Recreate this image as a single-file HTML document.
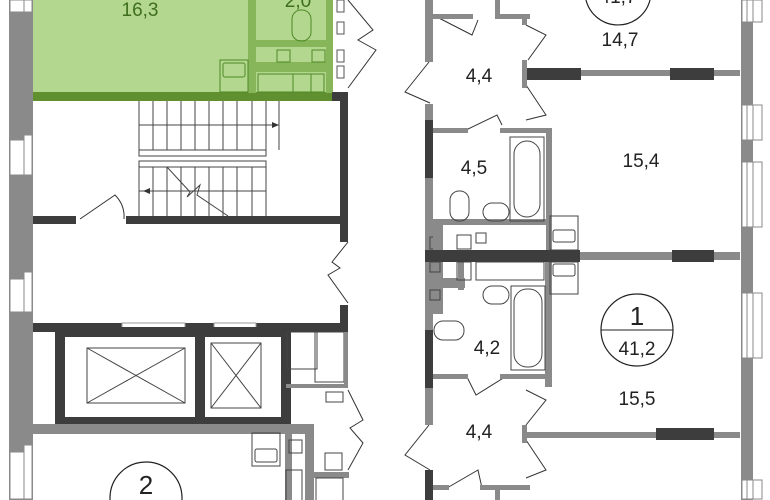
<!DOCTYPE html>
<html><head><meta charset="utf-8"><style>
html,body{margin:0;padding:0;background:#fff;width:770px;height:500px;overflow:hidden}
svg{display:block}
text{font-family:"Liberation Sans",sans-serif}
</style></head><body>
<svg width="770" height="500" viewBox="0 0 770 500" xmlns="http://www.w3.org/2000/svg" overflow="hidden">
<rect width="770" height="500" fill="#fff"/>
<rect x="9" y="0" width="24" height="500" fill="#8a8a8a"/>
<g fill="#fff" stroke="#8a8a8a" stroke-width="1">
<rect x="10" y="0" width="14" height="12"/><rect x="24" y="0" width="8" height="12"/>
<rect x="10" y="140" width="14" height="35"/><rect x="24" y="135" width="8" height="40"/>
<rect x="10" y="279" width="14" height="33"/><rect x="24" y="272" width="8" height="40"/>
<rect x="10" y="452" width="14" height="47"/><rect x="24" y="445" width="8" height="54"/>
</g>
<rect x="33" y="0" width="300" height="93" fill="#b3d78f"/>
<rect x="33" y="92" width="300" height="9" fill="#5f8f2f"/>
<rect x="248" y="0" width="8" height="93" fill="#86b55a"/>
<rect x="326" y="0" width="7" height="93" fill="#86b55a"/>
<rect x="256" y="40" width="70" height="7" fill="#86b55a"/>
<rect x="256" y="62" width="70" height="10" fill="#86b55a"/>
<g fill="none" stroke="#4e8a24" stroke-width="1">
<rect x="220" y="60" width="28" height="32"/><rect x="223" y="63" width="22" height="14" rx="2"/>
<rect x="292" y="10" width="19" height="31" rx="9"/>
<rect x="277" y="50" width="13" height="12"/><rect x="312" y="50" width="13" height="12"/>
<rect x="293" y="74" width="18" height="18"/><rect x="258" y="74" width="66" height="18"/>
</g>
<text x="140" y="16" font-size="19" fill="#3f6e1e" text-anchor="middle">16,3</text>
<text x="298" y="7" font-size="19" fill="#3f6e1e" text-anchor="middle">2,0</text>
<g fill="#fff" stroke="#555" stroke-width="1"><rect x="337" y="0" width="7" height="12"/><rect x="337" y="22" width="7" height="12"/><rect x="337" y="50" width="7" height="12"/><rect x="337" y="66" width="7" height="12"/></g>
<rect x="332" y="92" width="16" height="9" fill="#3d3d3d"/>
<rect x="340" y="92" width="8" height="150" fill="#3d3d3d"/>
<rect x="33" y="216" width="43" height="8" fill="#3d3d3d"/>
<rect x="126" y="216" width="214" height="8" fill="#3d3d3d"/>
<path d="M80 219 L115 195 Q125 205 124 219" fill="none" stroke="#333" stroke-width="1"/>
<g fill="none" stroke="#444" stroke-width="1">
<line x1="139" y1="101" x2="139" y2="152"/><line x1="139" y1="125" x2="279" y2="125"/>
<rect x="139" y="150" width="127" height="6"/><rect x="139" y="161" width="127" height="6"/>
<line x1="139" y1="167" x2="139" y2="216"/><line x1="139" y1="191" x2="266" y2="191"/>
<line x1="279" y1="101" x2="279" y2="150"/>
<line x1="153" y1="101" x2="153" y2="150"/><line x1="167" y1="101" x2="167" y2="150"/><line x1="181" y1="101" x2="181" y2="150"/><line x1="195" y1="101" x2="195" y2="150"/><line x1="209" y1="101" x2="209" y2="150"/><line x1="223" y1="101" x2="223" y2="150"/><line x1="237" y1="101" x2="237" y2="150"/><line x1="252" y1="101" x2="252" y2="150"/><line x1="266" y1="101" x2="266" y2="150"/>
<line x1="153" y1="167" x2="153" y2="216"/><line x1="167" y1="167" x2="167" y2="216"/><line x1="181" y1="167" x2="181" y2="216"/><line x1="195" y1="167" x2="195" y2="216"/><line x1="209" y1="167" x2="209" y2="216"/><line x1="223" y1="167" x2="223" y2="216"/><line x1="237" y1="167" x2="237" y2="216"/><line x1="252" y1="167" x2="252" y2="216"/><line x1="266" y1="167" x2="266" y2="216"/>
<path d="M167 167 L190 192 L187 197 L200 185 L197 195 L228 216"/>
</g>
<path d="M279 125 l-7 -3 v6z M143 191 l7 -3 v6z" fill="#333"/>
<g fill="none" stroke="#333" stroke-width="1">
<path d="M348 242 L332 262 L340 268 L328 275 L348 303"/>
<path d="M348 390 L363 420 L350 428 L363 443 L348 470"/>
<path d="M348 0 L373 30 L358 40 L376 50 L348 88"/>
</g>
<rect x="33" y="323" width="315" height="9" fill="#3d3d3d"/>
<rect x="122" y="323" width="63" height="9" fill="#fff" stroke="#999"/>
<rect x="214" y="323" width="42" height="9" fill="#fff" stroke="#999"/>
<rect x="340" y="305" width="8" height="27" fill="#3d3d3d"/>
<rect x="60" y="332" width="226" height="90" fill="none" stroke="#3d3d3d" stroke-width="10"/>
<rect x="195" y="332" width="10" height="90" fill="#3d3d3d"/>
<g fill="none" stroke="#444" stroke-width="1">
<rect x="87" y="348" width="98" height="55"/><path d="M87 348 L185 403 M185 348 L87 403"/>
<rect x="211" y="343" width="50" height="65"/><path d="M211 343 L261 408 M261 343 L211 408"/>
<rect x="287" y="332" width="30" height="37"/><rect x="315" y="332" width="29" height="50"/>
<rect x="326" y="392" width="17" height="10"/>
</g>
<rect x="286" y="384" width="60" height="4" fill="#8a8a8a"/>
<rect x="344" y="332" width="4" height="56" fill="#8a8a8a"/>
<rect x="33" y="424" width="280" height="10" fill="#8a8a8a"/>
<rect x="305" y="424" width="9" height="76" fill="#8a8a8a"/>
<rect x="285" y="430" width="7" height="70" fill="#8a8a8a"/>
<rect x="314" y="472" width="35" height="6" fill="#8a8a8a"/>
<g fill="none" stroke="#444" stroke-width="1">
<rect x="252" y="433" width="28" height="33"/><rect x="255" y="449" width="22" height="13" rx="2"/>
<rect x="289" y="440" width="13" height="13"/><path d="M286 500 V470 H302 V500"/>
<rect x="325" y="453" width="17" height="17"/><path d="M316 500 V478 H343 V500"/>
</g>
<path d="M110 500 V498 A36 36 0 0 1 182 498 V500" fill="#fff" stroke="#222" stroke-width="1.2"/>
<text x="146" y="494" font-size="26" fill="#222" text-anchor="middle">2</text>
<rect x="425" y="0" width="8" height="500" fill="#8a8a8a"/>
<rect x="425" y="120" width="8" height="58" fill="#3d3d3d"/>
<rect x="425" y="330" width="8" height="58" fill="#3d3d3d"/>
<rect x="425" y="470" width="8" height="30" fill="#3d3d3d"/>
<rect x="424" y="62" width="10" height="42" fill="#fff"/>
<rect x="424" y="425" width="10" height="45" fill="#fff"/>
<g fill="none" stroke="#333" stroke-width="1">
<path d="M429 62 L405 92 L430 103"/><path d="M429 425 L405 455 L430 470"/>
<path d="M433 15 L472 35 L478 20"/>
<path d="M526 25 L546 35 L528 60"/><path d="M526 85 L546 115 L526 120"/>
<path d="M466 130 L497 115 L502 125"/>
<path d="M466 375 L476 395 L505 377"/>
<path d="M526 390 L546 400 L526 425"/><path d="M526 440 L546 470 L526 478"/>
<path d="M447 488 L478 470 L482 488"/>
</g>
<rect x="433" y="14" width="40" height="5" fill="#8a8a8a"/><rect x="495" y="14" width="35" height="5" fill="#8a8a8a"/>
<rect x="495" y="0" width="5" height="15" fill="#8a8a8a"/>
<rect x="522" y="15" width="5" height="10" fill="#8a8a8a"/>
<rect x="525" y="70" width="215" height="6" fill="#8a8a8a"/>
<rect x="525" y="68" width="56" height="12" fill="#3d3d3d"/><rect x="670" y="68" width="44" height="12" fill="#3d3d3d"/>
<rect x="522" y="60" width="5" height="28" fill="#8a8a8a"/>
<rect x="433" y="128" width="35" height="5" fill="#8a8a8a"/><rect x="500" y="128" width="52" height="5" fill="#8a8a8a"/>
<rect x="546" y="128" width="6" height="122" fill="#8a8a8a"/>
<rect x="425" y="219" width="127" height="6" fill="#8a8a8a"/>
<g fill="none" stroke="#444" stroke-width="1">
<rect x="510" y="137" width="34" height="84"/><rect x="514" y="141" width="26" height="76" rx="13"/>
<rect x="450" y="191" width="19" height="30" rx="9"/><rect x="483" y="203" width="26" height="18" rx="9"/>
<rect x="550" y="216" width="28" height="34"/><rect x="553" y="230" width="22" height="12" rx="2"/>
<rect x="430" y="237" width="12" height="12"/><rect x="457" y="235" width="14" height="14"/><rect x="476" y="233" width="10" height="10"/>
</g>
<rect x="433" y="225" width="10" height="25" fill="#8a8a8a"/>
<rect x="425" y="250" width="155" height="12" fill="#3d3d3d"/>
<rect x="580" y="252" width="160" height="8" fill="#8a8a8a"/><rect x="672" y="250" width="42" height="12" fill="#3d3d3d"/>
<rect x="433" y="262" width="10" height="52" fill="#8a8a8a"/>
<rect x="443" y="278" width="22" height="10" fill="#8a8a8a"/>
<rect x="458" y="262" width="6" height="28" fill="#8a8a8a"/>
<rect x="545" y="262" width="7" height="125" fill="#8a8a8a"/>
<rect x="433" y="374" width="35" height="5" fill="#8a8a8a"/><rect x="500" y="374" width="52" height="5" fill="#8a8a8a"/>
<g fill="none" stroke="#444" stroke-width="1">
<rect x="430" y="262" width="10" height="10"/><rect x="430" y="290" width="10" height="10"/>
<rect x="457" y="262" width="14" height="18"/><rect x="476" y="262" width="68" height="18"/>
<rect x="550" y="262" width="28" height="32"/><rect x="553" y="264" width="22" height="12" rx="2"/>
<rect x="511" y="286" width="34" height="84"/><rect x="514" y="289" width="28" height="78" rx="13"/>
<rect x="483" y="286" width="26" height="18" rx="9"/><rect x="434" y="321" width="30" height="19" rx="9"/>
</g>
<rect x="525" y="432" width="215" height="6" fill="#8a8a8a"/><rect x="656" y="428" width="58" height="12" fill="#3d3d3d"/>
<rect x="522" y="425" width="5" height="18" fill="#8a8a8a"/>
<rect x="433" y="485" width="16" height="5" fill="#8a8a8a"/><rect x="480" y="485" width="50" height="5" fill="#8a8a8a"/>
<rect x="495" y="488" width="5" height="12" fill="#8a8a8a"/>
<rect x="741" y="0" width="12" height="500" fill="#8a8a8a"/>
<g fill="#fff" stroke="#8a8a8a" stroke-width="1">
<rect x="742" y="0" width="5" height="22"/><rect x="747" y="0" width="6" height="22"/><rect x="753" y="0" width="9" height="22"/>
<rect x="742" y="105" width="5" height="35"/><rect x="747" y="105" width="6" height="35"/><rect x="753" y="105" width="9" height="35"/>
<rect x="742" y="162" width="5" height="65"/><rect x="747" y="162" width="6" height="65"/><rect x="753" y="162" width="9" height="65"/>
<rect x="742" y="293" width="5" height="65"/><rect x="747" y="293" width="6" height="65"/><rect x="753" y="293" width="9" height="65"/>
<rect x="742" y="480" width="5" height="19"/><rect x="747" y="480" width="6" height="19"/><rect x="753" y="480" width="9" height="19"/>
</g>
<path d="M586 0 A33 33 0 0 0 650 0" fill="#fff" stroke="#222" stroke-width="1.2"/>
<text x="618" y="3" font-size="19" fill="#222" text-anchor="middle">41,7</text>
<g font-size="19" fill="#222" text-anchor="middle">
<text x="620" y="46">14,7</text>
<text x="479" y="82">4,4</text>
<text x="641" y="167">15,4</text>
<text x="474" y="174">4,5</text>
<text x="487" y="354">4,2</text>
<text x="637" y="405">15,5</text>
<text x="479" y="438">4,4</text>
</g>
<circle cx="637" cy="330" r="36" fill="#fff" stroke="#222" stroke-width="1.2"/>
<line x1="601" y1="330" x2="673" y2="330" stroke="#222" stroke-width="1"/>
<text x="637" y="325" font-size="26" fill="#222" text-anchor="middle">1</text>
<text x="637" y="355" font-size="19" fill="#222" text-anchor="middle">41,2</text>
</svg>
</body></html>
